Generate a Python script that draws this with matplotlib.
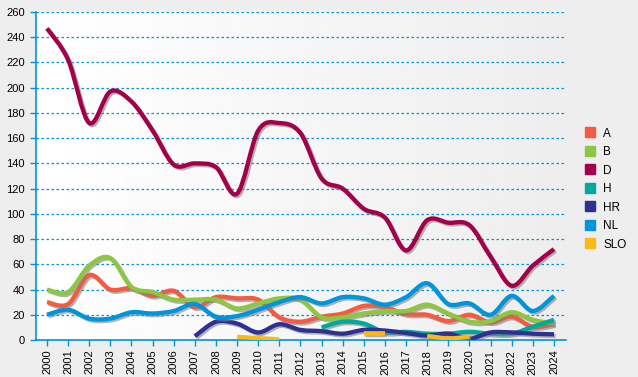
import numpy as np
import matplotlib
matplotlib.use("Agg")
import matplotlib.pyplot as plt
from matplotlib.path import Path
from matplotlib.patches import PathPatch
import matplotlib.patheffects as pe

years = list(range(2000, 2025))
nan = np.nan

A = [30, 28.5, 51.5, 40, 41, 35, 39, 26, 34, 33, 32, 18, 14.5, 18.5, 21, 27, 26, 20.5, 20, 15, 20, 14, 18.5, 10.5, 12.5]
B = [40, 38, 59, 65, 42, 38, 32, 32, 32, 25, 29, 33, 32, 18, 18, 21, 23, 23, 28, 21, 14.5, 15, 22, 16, 13]
D = [247, 222, 172, 197, 189, 166, 139, 140, 137, 116, 166, 172, 164, 128, 120, 104, 97, 71, 95, 93, 91, 66, 43, 59, 72]
H = [nan] * 13 + [10, 14.5, 13, 6, 6.5, 5, 5, 6.5, 5, 5, 10.5, 16]
HR = [nan] * 7 + [3, 14.5, 13, 6, 12.5, 8, 7, 5, 8, 7.5, 5.5, 3.5, 5, 1, 6, 6, 5, 4.5]
NL = [20, 24, 17, 17, 22, 21, 23, 28.5, 18.5, 19, 24, 30, 34, 29, 34, 33, 28, 34, 45, 28.5, 29, 20, 35, 23, 35]
SLO = [nan] * 9 + [2.5, 1.5, 0.5, nan, nan, nan, 5.3, 5.3, nan, 3.2, 1.3, 2.6, nan, nan, nan, nan]

series = [("A", A, "#F45B41"), ("B", B, "#8DC63F"), ("D", D, "#A3004B"),
          ("H", H, "#00A99D"), ("HR", HR, "#2E3192"), ("NL", NL, "#0095DA"),
          ("SLO", SLO, "#FDB813")]

blue = "#0095DA"
plt.rcParams['font.family'] = ['Liberation Sans', 'DejaVu Sans']
plt.rcParams['font.size'] = 8


def smooth_path(xs, ys):
    # Catmull-Rom curve through the points, as cubic Bezier segments
    verts = [(xs[0], ys[0])]
    codes = [Path.MOVETO]
    n = len(xs)
    for i in range(n - 1):
        x0, y0 = (xs[i - 1], ys[i - 1]) if i > 0 else (xs[i], ys[i])
        x3, y3 = (xs[i + 2], ys[i + 2]) if i + 2 < n else (xs[i + 1], ys[i + 1])
        c1 = (xs[i] + (xs[i + 1] - x0) / 6, ys[i] + (ys[i + 1] - y0) / 6)
        c2 = (xs[i + 1] - (x3 - xs[i]) / 6, ys[i + 1] - (y3 - ys[i]) / 6)
        verts += [c1, c2, (xs[i + 1], ys[i + 1])]
        codes += [Path.CURVE4] * 3
    return Path(verts, codes)


fig = plt.figure(figsize=(6.38, 3.77), dpi=100, facecolor="#EEEEEE")
ax = fig.add_axes([36 / 638, 37 / 377, 530 / 638, 328 / 377])

grad = np.linspace(1.0, 0.93, 256).reshape(1, -1)
ax.imshow(grad, cmap="gray", vmin=0, vmax=1, aspect="auto",
          extent=[0, 1, 0, 1], transform=ax.transAxes, zorder=0)

for name, vals, col in series:
    v = np.array(vals, dtype=float)
    x = np.array(years, dtype=float)
    ok = ~np.isnan(v)
    runs = []
    cur = []
    for i in range(len(v)):
        if ok[i]:
            cur.append(i)
        elif cur:
            runs.append(cur)
            cur = []
    if cur:
        runs.append(cur)
    for r in runs:
        if len(r) < 2:
            continue
        p = PathPatch(smooth_path(x[r], v[r]), facecolor="none", edgecolor=col,
                      lw=3.1, capstyle="butt", zorder=3)
        p.set_path_effects([pe.SimpleLineShadow(offset=(1.2, -1.2), shadow_color="gray", alpha=0.6),
                            pe.Normal()])
        ax.add_patch(p)
    ax.plot([], [], color=col, marker="s", ls="none", ms=7, label=name)

ax.set_xlim(1999.48, 2024.57)
ax.set_ylim(0, 260)
ax.set_yticks(range(0, 261, 20))
ax.set_xticks(years)
ax.set_xticklabels([str(y) for y in years], rotation=90)
ax.grid(axis="y", color=blue, ls=(0, (2, 2)), lw=0.9)
ax.set_axisbelow(False)
for s in ["top", "right"]:
    ax.spines[s].set_visible(False)
for s in ["left", "bottom"]:
    ax.spines[s].set_color(blue)
    ax.spines[s].set_linewidth(1.2)
ax.tick_params(axis="y", color=blue, length=4, width=1, pad=4)
ax.tick_params(axis="x", color=blue, length=4, width=1, pad=3)

ax.legend(loc="upper left", bbox_to_anchor=(1.016, 0.68), frameon=False,
          handlelength=0.8, handletextpad=0.75, labelspacing=0.55, fontsize=8.5)

fig.savefig("out.png", dpi=100, facecolor=fig.get_facecolor())
